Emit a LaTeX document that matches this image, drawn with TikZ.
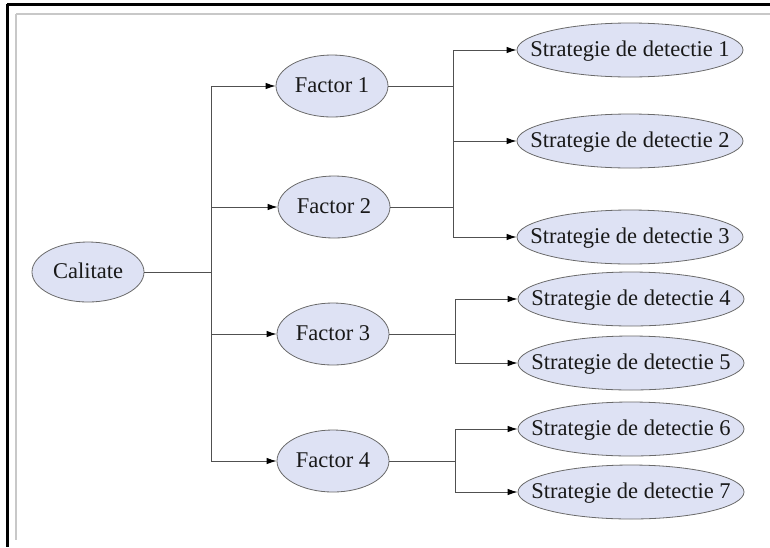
\documentclass[tikz,border=0pt]{standalone}
\usepackage{fontspec}
\setmainfont{Liberation Serif}
\usetikzlibrary{shapes.geometric,arrows.meta}
\definecolor{nodefill}{HTML}{DEE2F4}
\definecolor{nodeline}{HTML}{6A6A6A}
\definecolor{edgeline}{HTML}{505050}
\definecolor{framegray}{HTML}{C8C8C8}
\tikzset{
  oval/.style={ellipse, draw=nodeline, fill=nodefill, line width=0.8pt, inner sep=-20pt,
    text height=15pt, text depth=3pt, text=black!90, font=\fontsize{22.5}{24}\selectfont},
  rootoval/.style={oval, minimum width=112pt, minimum height=60pt},
  factoval/.style={oval, minimum width=112pt, minimum height=62pt},
  stratoval/.style={oval, minimum width=226pt, minimum height=54pt},
  edge/.style={draw=edgeline, line width=0.9pt},
  arr/.style={edge, -{Latex[length=10pt,width=6.5pt,color=black]}},
}
\begin{document}
\begin{tikzpicture}[x=1pt,y=-1pt]
\useasboundingbox (0,0) rectangle (770,547);
% frame
\draw[line width=3pt, black] (7,4) -- (770,4);
\draw[line width=3pt, black] (7,4) -- (7,547);
\draw[line width=1.5pt, framegray] (16,14) -- (770,14);
\draw[line width=1.5pt, framegray] (16,14) -- (16,540);
% nodes
\node[rootoval] (cal) at (88,272) {Calitate};
\node[factoval] (f1) at (332,86) {Factor 1};
\node[factoval] (f2) at (334,207) {Factor 2};
\node[factoval] (f3) at (333,334) {Factor 3};
\node[factoval] (f4) at (333,461) {Factor 4};
\node[stratoval] (s1) at (630,50) {Strategie de detectie 1};
\node[stratoval] (s2) at (630,141) {Strategie de detectie 2};
\node[stratoval] (s3) at (630,237) {Strategie de detectie 3};
\node[stratoval] (s4) at (631,299) {Strategie de detectie 4};
\node[stratoval] (s5) at (631,363) {Strategie de detectie 5};
\node[stratoval] (s6) at (631,429) {Strategie de detectie 6};
\node[stratoval] (s7) at (631,492) {Strategie de detectie 7};
% junction columns
\coordinate (jt) at (211,272);
\coordinate (ja) at (453,0);
\coordinate (jb) at (455,0);
% connectors from Calitate
\draw[edge] (cal.east) -- (jt);
\draw[arr] (jt) |- (f1.west);
\draw[arr] (jt) |- (f2.west);
\draw[arr] (jt) |- (f3.west);
\draw[arr] (jt) |- (f4.west);
% Factor 1 and 2
\draw[edge] (f1.east) -- (f1.east -| ja);
\draw[edge] (f2.east) -- (f2.east -| ja);
\draw[edge] (f1.east -| ja) -- (f2.east -| ja);
\draw[arr] (f1.east -| ja) |- (s1.west);
\draw[arr] (f2.east -| ja) |- (s2.west);
\draw[arr] (f2.east -| ja) |- (s3.west);
% Factor 3
\draw[edge] (f3.east) -- (f3.east -| jb);
\draw[arr] (f3.east -| jb) |- (s4.west);
\draw[arr] (f3.east -| jb) |- (s5.west);
% Factor 4
\draw[edge] (f4.east) -- (f4.east -| jb);
\draw[arr] (f4.east -| jb) |- (s6.west);
\draw[arr] (f4.east -| jb) |- (s7.west);
\end{tikzpicture}
\end{document}
